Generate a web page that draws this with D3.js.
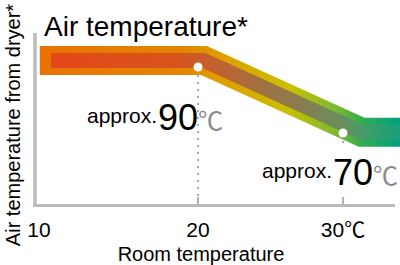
<!DOCTYPE html>
<html><head><meta charset="utf-8">
<script src="https://cdn.jsdelivr.net/npm/d3@7"></script>
<style>body{margin:0;background:#fff}svg{display:block}</style>
</head><body>
<svg id="c" width="400" height="265"></svg>
<script>
// ---- data ----
const xTicks = [10, 20, 30];
const xTickLabels = ["10", "20", "30℃"];
const roomTemps = [20, 30];          // measured points (room temperature)
const airTemps = [90, 70];           // air temperature from dryer (approx.)
const pointLabels = ["approx.", "approx."];
const valueLabels = ["90", "70"];
const unitLabel = "℃";
// band (trend ribbon) centre line
const bandRoom = [10.05, 20.4, 31.3, 34];
const bandAir = [92, 92, 70.2, 70.2];
const innerBandRoom = [10.75, 20.4, 31.3, 34];
const title = "Air temperature*";
const xTitle = "Room temperature";
const yTitle = "Air temperature from dryer*";

const svg = d3.select("#c");
const font = "'Liberation Sans', Arial, Helvetica, sans-serif";

const x = d3.scaleLinear().domain([10, 20, 30]).range([39, 198, 343]);
const y = d3.scaleLinear().domain([70, 90]).range([133, 67]);

// gradients
const defs = svg.append("defs");
function grad(id, stops) {
  const g = defs.append("linearGradient").attr("id", id)
    .attr("gradientUnits", "userSpaceOnUse")
    .attr("x1", 40).attr("x2", 400).attr("y1", 0).attr("y2", 0);
  stops.forEach(s => g.append("stop").attr("offset", ((s[0] - 40) / 360)).attr("stop-color", s[1]));
}
grad("outer", [[40, "#E97200"], [185, "#E48500"], [215, "#DF9B00"], [290, "#C9C000"], [335, "#7CBA30"], [365, "#2EAA55"], [400, "#00A07E"]]);
grad("inner", [[51, "#E3481A"], [180, "#D8541C"], [210, "#C65E2E"], [260, "#A27040"], [300, "#8A7C50"], [340, "#6A8E5C"], [370, "#3C9E6A"], [400, "#16A07A"]]);

// axes lines
svg.append("line").attr("x1", 35).attr("x2", 35).attr("y1", 33).attr("y2", 207)
  .attr("stroke", "#bbbbbb").attr("stroke-width", 3.5);
svg.append("line").attr("x1", 33).attr("x2", 395).attr("y1", 205.5).attr("y2", 205.5)
  .attr("stroke", "#bbbbbb").attr("stroke-width", 3);

// guide lines from points to axis
roomTemps.forEach((r, i) => {
  svg.append("line").attr("x1", x(r)).attr("x2", x(r))
    .attr("y1", y(airTemps[i]) + 8).attr("y2", i === 0 ? 197 : y(airTemps[i]) + 12)
    .attr("stroke", "#aaaaaa").attr("stroke-width", 2).attr("stroke-dasharray", "2,5");
  svg.append("line").attr("x1", x(r)).attr("x2", x(r)).attr("y1", 197).attr("y2", 204)
    .attr("stroke", "#a3b5cc").attr("stroke-width", 2);
});

// band
const line = d3.line().x(d => x(d[0])).y(d => y(d[1]));
svg.append("path").attr("d", line(d3.zip(bandRoom, bandAir)))
  .attr("fill", "none").attr("stroke", "url(#outer)").attr("stroke-width", 29)
  .attr("stroke-linejoin", "miter").attr("stroke-linecap", "butt");
svg.append("path").attr("d", line(d3.zip(innerBandRoom, bandAir)))
  .attr("fill", "none").attr("stroke", "url(#inner)").attr("stroke-width", 15)
  .attr("stroke-linejoin", "miter").attr("stroke-linecap", "butt");

// points
svg.selectAll("circle.pt").data(d3.zip(roomTemps, airTemps)).join("circle")
  .attr("class", "pt").attr("cx", d => x(d[0])).attr("cy", d => y(d[1])).attr("r", 4.5)
  .attr("fill", "#fff");

// point labels
const labelPos = [[158, 130], [333, 185]];
roomTemps.forEach((r, i) => {
  svg.append("text").attr("x", labelPos[i][0] - 1).attr("y", labelPos[i][1] - 7)
    .attr("font-family", font).attr("font-size", 21).attr("text-anchor", "end")
    .text(pointLabels[i]);
  const t2 = svg.append("text").attr("x", labelPos[i][0]).attr("y", labelPos[i][1])
    .attr("font-family", font);
  t2.append("tspan").attr("font-size", 36).attr("fill", "#000").text(valueLabels[i]);
  t2.append("tspan").attr("font-size", 25).attr("fill", "#8a8a8a")
    .attr("font-family", "'Noto Sans CJK JP', sans-serif").text(unitLabel);
});

// x tick labels
svg.selectAll("text.xt").data(xTicks).join("text").attr("class", "xt")
  .attr("x", d => x(d)).attr("y", 237).attr("text-anchor", "middle")
  .attr("font-family", font).attr("font-size", 21)
  .each(function(d, i) {
    const s = xTickLabels[i];
    const el = d3.select(this);
    if (s.endsWith("℃")) {
      el.append("tspan").text(s.slice(0, -1));
      el.append("tspan").attr("font-family", "'Noto Sans CJK JP', sans-serif").text("℃");
    } else el.text(s);
  });

// titles
svg.append("text").attr("x", 44).attr("y", 36).attr("font-family", font)
  .attr("font-size", 28).text(title);
svg.append("text").attr("x", 201).attr("y", 261).attr("text-anchor", "middle")
  .attr("font-family", font).attr("font-size", 20).text(xTitle);
svg.append("text").attr("transform", "translate(20,125) rotate(-90)")
  .attr("text-anchor", "middle").attr("font-family", font).attr("font-size", 20).text(yTitle);
</script>
</body></html>
